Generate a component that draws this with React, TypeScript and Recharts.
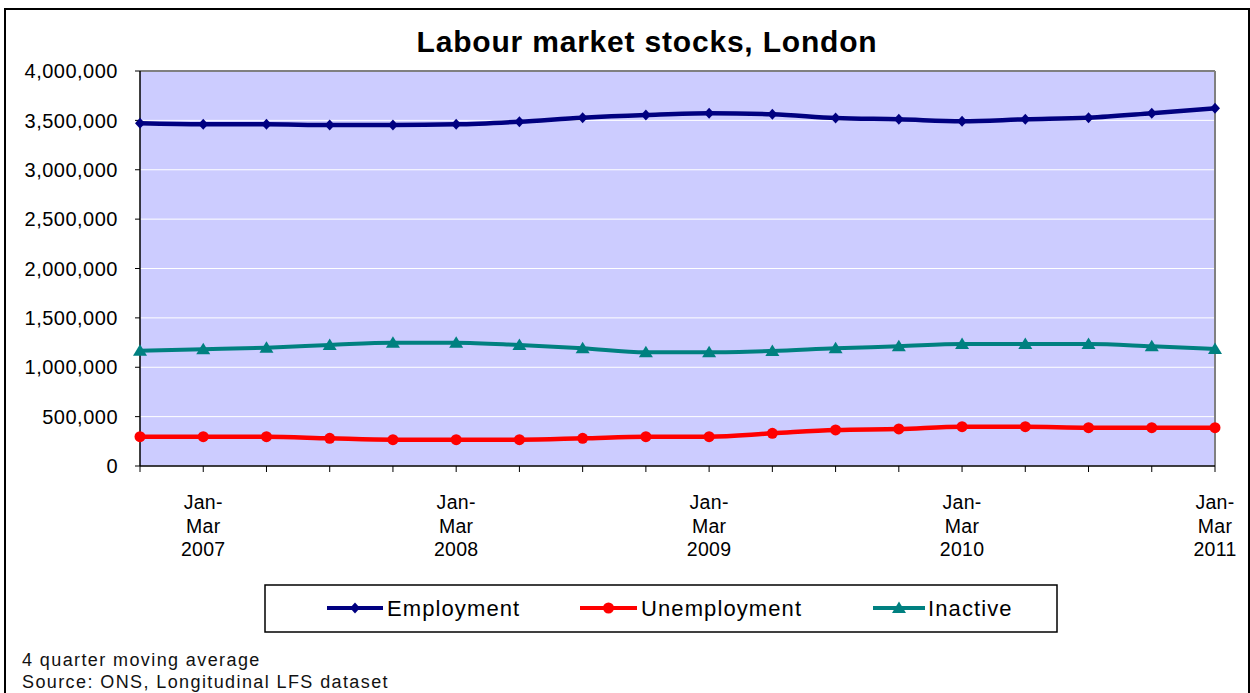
import React from 'react';
import { LineChart, Line, XAxis, YAxis, CartesianGrid, ReferenceLine } from 'recharts';

const quarters = [
  'Oct-Dec 2006',
  'Jan-Mar 2007', 'Apr-Jun 2007', 'Jul-Sep 2007', 'Oct-Dec 2007',
  'Jan-Mar 2008', 'Apr-Jun 2008', 'Jul-Sep 2008', 'Oct-Dec 2008',
  'Jan-Mar 2009', 'Apr-Jun 2009', 'Jul-Sep 2009', 'Oct-Dec 2009',
  'Jan-Mar 2010', 'Apr-Jun 2010', 'Jul-Sep 2010', 'Oct-Dec 2010',
  'Jan-Mar 2011',
];

const employment = [
  3470000, 3460000, 3460000, 3453000, 3453000, 3460000, 3487000, 3527000, 3554000,
  3572000, 3562000, 3524000, 3511000, 3491000, 3511000, 3527000, 3572000, 3622000,
];
const unemployment = [
  297000, 297000, 297000, 280000, 266000, 266000, 266000, 280000, 297000,
  297000, 331000, 365000, 375000, 398000, 398000, 388000, 388000, 388000,
];
const inactive = [
  1168000, 1182000, 1198000, 1225000, 1249000, 1249000, 1225000, 1192000, 1151000,
  1151000, 1165000, 1192000, 1212000, 1235000, 1235000, 1235000, 1212000, 1185000,
];

const yTicks = [0, 500000, 1000000, 1500000, 2000000, 2500000, 3000000, 3500000, 4000000];

const data = quarters.map((q, i) => ({
  quarter: q,
  Employment: employment[i],
  Unemployment: unemployment[i],
  Inactive: inactive[i],
}));

const FONT = '"Liberation Sans", Arial, sans-serif';
const NAVY = '#000080';
const RED = '#FF0000';
const TEAL = '#008080';

const diamond = (cx: number, cy: number, color: string, key?: any) => (
  <path key={key} d={`M${cx},${cy - 5.5} L${cx + 5},${cy} L${cx},${cy + 5.5} L${cx - 5},${cy} Z`} fill={color} />
);
const circle = (cx: number, cy: number, color: string, key?: any) => (
  <circle key={key} cx={cx} cy={cy} r={5.5} fill={color} />
);
const triangle = (cx: number, cy: number, color: string, key?: any) => (
  <path key={key} d={`M${cx},${cy - 6.5} L${cx + 7},${cy + 5} L${cx - 7},${cy + 5} Z`} fill={color} />
);

const QuarterTick = (props: any) => {
  const { x, y, payload } = props;
  const v: string = payload.value;
  if (!v.startsWith('Jan')) return <g />;
  const year = v.split(' ')[1];
  return (
    <text textAnchor="middle" fontFamily={FONT} fontSize={19.5} fill="#000" letterSpacing={0.3}>
      <tspan x={x} y={y + 35}>Jan-</tspan>
      <tspan x={x} y={y + 58.5}>Mar</tspan>
      <tspan x={x} y={y + 82}>{year}</tspan>
    </text>
  );
};

const ValueTick = (props: any) => {
  const { x, y, payload } = props;
  return (
    <text x={x} y={y} dy="0.36em" textAnchor="end" fontFamily={FONT} fontSize={20} fill="#000" letterSpacing={0.5}>
      {Number(payload.value).toLocaleString('en-US')}
    </text>
  );
};

const legendItems = [
  { name: 'Employment', color: NAVY, marker: diamond, x1: 327, x2: 383, tx: 387 },
  { name: 'Unemployment', color: RED, marker: circle, x1: 580, x2: 637, tx: 641 },
  { name: 'Inactive', color: TEAL, marker: triangle, x1: 873, x2: 925, tx: 928 },
];

export default function App() {
  return (
    <div style={{ position: 'absolute', left: 0, top: 0, width: 1250, height: 693, overflow: 'hidden', background: '#fff', fontFamily: FONT }}>
      <div style={{ position: 'absolute', left: 4, top: 8, width: 1242, height: 720, border: '2px solid #000' }} />

      <LineChart
        width={1250}
        height={693}
        data={data}
        margin={{ top: 71, right: 35, bottom: 127, left: 10 }}
        style={{ position: 'absolute', left: 0, top: 0 }}
      >
        <CartesianGrid horizontal vertical={false} stroke="#FFFFFF" strokeWidth={1} fill="#CCCCFF" fillOpacity={1} />
        <ReferenceLine y={4000000} stroke="#808080" strokeWidth={2} />
        <ReferenceLine x="Jan-Mar 2011" stroke="#808080" strokeWidth={2} />
        <XAxis
          dataKey="quarter"
          interval={0}
          height={100}
          tick={<QuarterTick />}
          tickSize={6}
          stroke="#000"
          tickLine={{ stroke: '#000' }}
          axisLine={{ stroke: '#000', strokeWidth: 1.5 }}
        />
        <YAxis
          width={130}
          domain={[0, 4000000]}
          ticks={yTicks}
          tick={<ValueTick />}
          tickSize={5}
          tickMargin={17}
          stroke="#000"
          axisLine={{ stroke: '#000', strokeWidth: 1.5 }}
          tickLine={{ stroke: '#000' }}
          allowDataOverflow
        />
        <Line
          dataKey="Inactive"
          type="monotone"
          stroke={TEAL}
          strokeWidth={4}
          isAnimationActive={false}
          dot={(p: any) => triangle(p.cx, p.cy, TEAL, `t-${p.index}`)}
          activeDot={false}
        />
        <Line
          dataKey="Unemployment"
          type="monotone"
          stroke={RED}
          strokeWidth={4.5}
          isAnimationActive={false}
          dot={(p: any) => circle(p.cx, p.cy, RED, `c-${p.index}`)}
          activeDot={false}
        />
        <Line
          dataKey="Employment"
          type="monotone"
          stroke={NAVY}
          strokeWidth={4.5}
          isAnimationActive={false}
          dot={(p: any) => diamond(p.cx, p.cy, NAVY, `d-${p.index}`)}
          activeDot={false}
        />
      </LineChart>

      <div style={{ position: 'absolute', left: 0, top: 25, width: 1294, textAlign: 'center', fontSize: 30, fontWeight: 'bold', letterSpacing: 0.8, color: '#000', lineHeight: '34px' }}>
        Labour market stocks, London
      </div>

      <svg width={1250} height={693} style={{ position: 'absolute', left: 0, top: 0 }}>
        <rect x={265} y={585} width={792} height={47} fill="#fff" stroke="#000" strokeWidth={1.5} />
        {legendItems.map((it) => (
          <g key={it.name}>
            <line x1={it.x1} x2={it.x2} y1={608} y2={608} stroke={it.color} strokeWidth={4} />
            {it.marker((it.x1 + it.x2) / 2, 608, it.color)}
            <text x={it.tx} y={616} fontFamily={FONT} fontSize={22} letterSpacing={1.1} fill="#000">{it.name}</text>
          </g>
        ))}
      </svg>

      <div style={{ position: 'absolute', left: 22, top: 649, fontSize: 18, letterSpacing: 1.4, color: '#111', lineHeight: '22px' }}>
        <div>4 quarter moving average</div>
        <div>Source: ONS, Longitudinal LFS dataset</div>
      </div>
    </div>
  );
}
